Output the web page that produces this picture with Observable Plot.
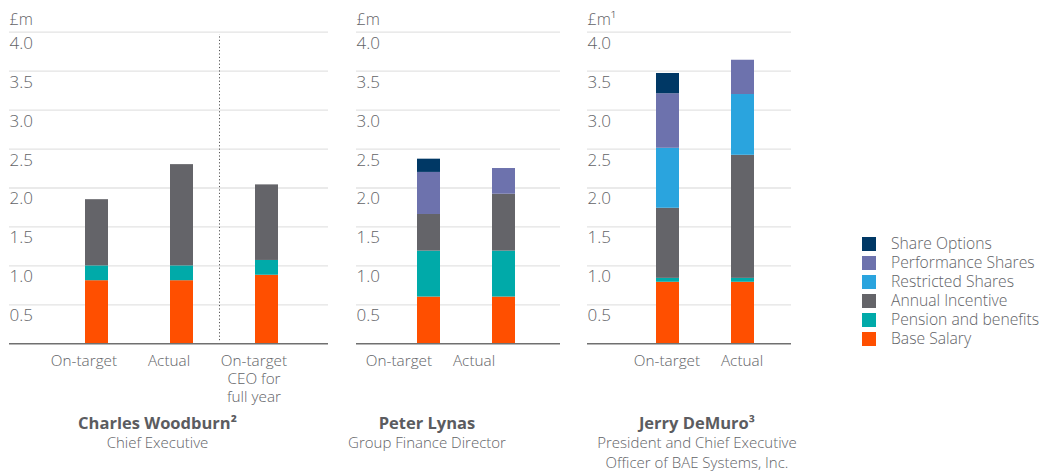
<!DOCTYPE html>
<html><head><meta charset="utf-8">
<script src="https://cdn.jsdelivr.net/npm/d3@7"></script>
<script src="https://cdn.jsdelivr.net/npm/@observablehq/plot@0.6"></script>
<style>
body{margin:0;background:#fff;}
#chart{position:relative;width:1042px;height:472px;font-family:"Open Sans",sans-serif;font-weight:300;color:#626367;overflow:hidden;}
.panel{position:absolute;top:0;}
.title{position:absolute;transform:translateX(-50%);text-align:center;white-space:nowrap;font-size:15px;line-height:19.5px;}
.title b{display:block;font-weight:700;font-size:16.5px;color:#5b5c60;line-height:21px;}
.legend{position:absolute;left:862px;top:234px;font-size:15.7px;line-height:19px;}
.legend div{display:flex;align-items:center;height:19px;line-height:19px;overflow:visible;}
.legend span.txt{display:inline-block;height:19px;line-height:19px;}
.legend span.sw{display:inline-block;flex:none;width:14px;height:14px;margin-right:15px;}
</style></head><body><div id="chart"></div>
<script>
// Series (stack order bottom -> top)
const series = ["Base Salary","Pension and benefits","Annual Incentive","Restricted Shares","Performance Shares","Share Options"];
const colors = ["#ff4f00","#00aaa9","#646469","#2aa4de","#6d72ad","#003865"];
const yTicks = [0.5,1.0,1.5,2.0,2.5,3.0,3.5,4.0];

// Charles Woodburn
const woodburnCats = ["On-target","Actual","On-target\nCEO for\nfull year"];
const woodburnBase = [0.81,0.81,0.88];
const woodburnPension = [0.19,0.19,0.19];
const woodburnAnnual = [0.85,1.30,0.97];

// Peter Lynas
const lynasCats = ["On-target","Actual"];
const lynasBase = [0.60,0.60];
const lynasPension = [0.59,0.59];
const lynasAnnual = [0.47,0.73];
const lynasPerformance = [0.54,0.33];
const lynasOptions = [0.17,0];

// Jerry DeMuro
const demuroCats = ["On-target","Actual"];
const demuroBase = [0.79,0.79];
const demuroPension = [0.05,0.05];
const demuroAnnual = [0.90,1.58];
const demuroRestricted = [0.77,0.78];
const demuroPerformance = [0.70,0.44];
const demuroOptions = [0.26,0];

const panels = [
  {left:9, width:319, cats:woodburnCats, unit:"£m", pi:0.731, po:0.731, align:0.6, labelDx:-13, sep:true,
   values:[["Base Salary",woodburnBase],["Pension and benefits",woodburnPension],["Annual Incentive",woodburnAnnual]],
   name:"Charles Woodburn²", sub:["Chief Executive"], cx:157.5},
  {left:356, width:204, cats:lynasCats, unit:"£m", pi:0.6974, po:0.691, align:0.571, labelDx:-30,
   values:[["Base Salary",lynasBase],["Pension and benefits",lynasPension],["Annual Incentive",lynasAnnual],["Performance Shares",lynasPerformance],["Share Options",lynasOptions]],
   name:"Peter Lynas", sub:["Group Finance Director"], cx:427},
  {left:587, width:204, cats:demuroCats, unit:"£m¹", pi:0.6974, po:0.691, align:0.648, labelDx:-1,
   values:[["Base Salary",demuroBase],["Pension and benefits",demuroPension],["Annual Incentive",demuroAnnual],["Restricted Shares",demuroRestricted],["Performance Shares",demuroPerformance],["Share Options",demuroOptions]],
   name:"Jerry DeMuro³", sub:["President and Chief Executive","Officer of BAE Systems, Inc."], cx:697}
];

const chart = document.getElementById("chart");
const font = '"Open Sans", sans-serif';
const textColor = "#626367";

for (const p of panels) {
  const rows = [];
  p.cats.forEach((c,i) => p.values.forEach(([s,vals]) => { if (vals[i] > 0) rows.push({cat:c, series:s, value:vals[i]}); }));
  const marks = [
    Plot.gridY(yTicks, {stroke:"#e3e3e3", strokeOpacity:1, strokeWidth:1.3}),
    Plot.axisY(yTicks, {tickSize:0, tickPadding:0, textAnchor:"start", dy:11, fontSize:17, fill:textColor, label:null, tickFormat:d => d.toFixed(1)}),
    Plot.barY(rows, {x:"cat", y:"value", fill:"series", order:series}),
    Plot.ruleY([0], {stroke:"#707070", strokeWidth:1.5}),
    Plot.axisX({tickSize:0, tickPadding:9, fontSize:15.3, lineHeight:1.18, dx:p.labelDx, fill:textColor, label:null}),
    Plot.text([p.unit], {frameAnchor:"top-left", lineAnchor:"middle", dy:-12.7, fontSize:16, fill:textColor})
  ];
  if (p.sep) marks.push(Plot.ruleX([p.cats[2]], {x:d => d, y1:0.04, y2:3.97, dx:-47.5, stroke:"#555", strokeWidth:1, strokeDasharray:"1.2,2.2"}));
  const svg = Plot.plot({
    width:p.width, height:400, marginLeft:0, marginRight:0, marginTop:31.7, marginBottom:56.7,
    style:{fontFamily:font, fontWeight:300, fontSize:"15px", color:textColor, overflow:"visible", background:"transparent"},
    x:{domain:p.cats, paddingInner:p.pi, paddingOuter:p.po, align:p.align, axis:null},
    y:{domain:[0,4], axis:null},
    color:{domain:series, range:colors},
    marks
  });
  svg.classList.add("panel");
  svg.style.left = p.left + "px";
  chart.appendChild(svg);

  const t = document.createElement("div");
  t.className = "title";
  t.style.left = p.cx + "px";
  t.style.top = "412px";
  t.innerHTML = "<b>" + p.name + "</b>" + p.sub.join("<br>");
  chart.appendChild(t);
}

// Legend (top entry = top of stack)
const legend = document.createElement("div");
legend.className = "legend";
for (let i = series.length - 1; i >= 0; i--) {
  const row = document.createElement("div");
  row.innerHTML = '<span class="sw" style="background:' + colors[i] + '"></span><span class="txt">' + series[i] + '</span>';
  legend.appendChild(row);
}
chart.appendChild(legend);
</script>
</body></html>
